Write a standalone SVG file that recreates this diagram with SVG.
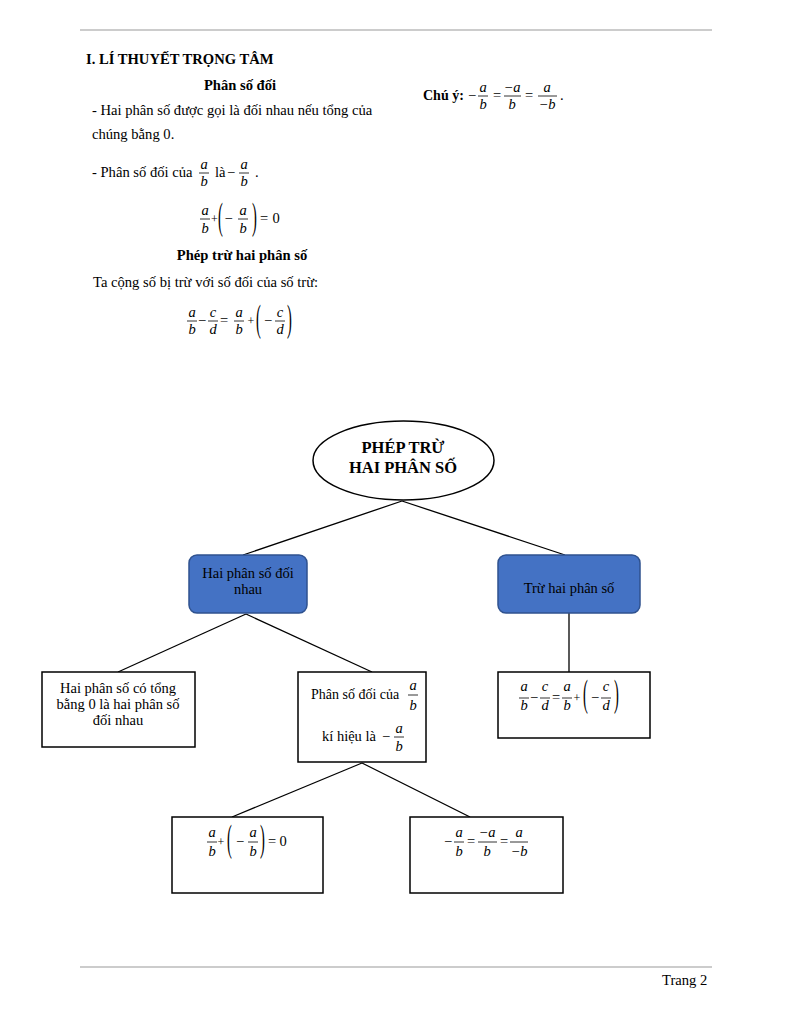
<svg xmlns="http://www.w3.org/2000/svg" width="792" height="1024" viewBox="0 0 792 1024">
<style>
.t{font-family:"Liberation Serif","Times New Roman",serif;font-size:14.6px;fill:#000}
.f{font-family:"Liberation Serif","Times New Roman",serif;font-size:14.5px;fill:#000}
.b{font-weight:bold}
.i{font-style:italic}
.m{text-anchor:middle}
.fl{stroke:#000;stroke-width:0.8}
.rule{stroke:#999;stroke-width:1}
.box{fill:#fff;stroke:#000;stroke-width:1.5}
.blue{fill:#4472C4;stroke:#2F528F;stroke-width:1.5}
.con{stroke:#000;stroke-width:1.3;fill:none}
.nt{font-family:"Liberation Serif","Times New Roman",serif;font-size:14.5px;fill:#000;text-anchor:middle}
.sp{font-size:12px}
</style>
<rect width="792" height="1024" fill="#fff"/>
<line class="rule" x1="80" y1="30" x2="712" y2="30"/>
<line class="rule" x1="80" y1="967" x2="712" y2="967"/>
<text class="t" x="662" y="985">Trang 2</text>

<g id="theory">
<text class="t b" x="86" y="64">I. LÍ THUYẾT TRỌNG TÂM</text>
<text class="t b m" x="240" y="90">Phân số đối</text>
<text class="t" x="92" y="115">- Hai phân số được gọi là đối nhau nếu tổng của</text>
<text class="t" x="92" y="139">chúng bằng 0.</text>
<text class="t" x="92" y="177">- Phân số đối của</text>
<text class="f i m" x="204" y="169">a</text><line class="fl" x1="199" y1="173" x2="209" y2="173"/><text class="f i m" x="204" y="186">b</text>
<text class="t" x="215" y="177">là</text>
<text class="f m" x="231" y="177">−</text>
<text class="f i m" x="244" y="169">a</text><line class="fl" x1="239" y1="173" x2="249" y2="173"/><text class="f i m" x="244" y="186">b</text>
<text class="t" x="255" y="177">.</text>

<text class="f i m" x="205" y="215">a</text><line class="fl" x1="200" y1="219" x2="210" y2="219"/><text class="f i m" x="205" y="233">b</text>
<text class="f m sp" x="214.5" y="223">+</text>
<text class="f" transform="translate(218,221) scale(1,2.6)" y="3">(</text>
<text class="f m" x="228.5" y="223">−</text>
<text class="f i m" x="243" y="215">a</text><line class="fl" x1="238" y1="219" x2="248" y2="219"/><text class="f i m" x="243" y="233">b</text>
<text class="f" transform="translate(252,221) scale(1,2.6)" y="3">)</text>
<text class="f m" x="264" y="223">=</text>
<text class="f m" x="276" y="223">0</text>

<text class="t b m" x="242" y="260">Phép trừ hai phân số</text>
<text class="t" x="93" y="287">Ta cộng số bị trừ với số đối của số trừ:</text>
<text class="f i m" x="192" y="317">a</text><line class="fl" x1="187" y1="321" x2="197" y2="321"/><text class="f i m" x="192" y="334">b</text>
<text class="f m" x="202" y="325">−</text>
<text class="f i m" x="213" y="317">c</text><line class="fl" x1="208" y1="321" x2="218" y2="321"/><text class="f i m" x="213" y="334">d</text>
<text class="f m" x="224" y="325">=</text>
<text class="f i m" x="239" y="317">a</text><line class="fl" x1="234" y1="321" x2="244" y2="321"/><text class="f i m" x="239" y="334">b</text>
<text class="f m sp" x="251" y="325">+</text>
<text class="f" transform="translate(256,323) scale(1,2.6)" y="3">(</text>
<text class="f m" x="268" y="325">−</text>
<text class="f i m" x="280" y="317">c</text><line class="fl" x1="275" y1="321" x2="285" y2="321"/><text class="f i m" x="280" y="334">d</text>
<text class="f" transform="translate(287,323) scale(1,2.6)" y="3">)</text>

<text class="t b" x="423" y="100" style="font-size:14px">Chú ý:</text>
<text class="f m" x="472" y="100">−</text>
<text class="f i m" x="483" y="92">a</text><line class="fl" x1="478" y1="96" x2="488" y2="96"/><text class="f i m" x="483" y="109">b</text>
<text class="f m" x="497" y="100">=</text>
<text class="f i m" x="512" y="92">−a</text><line class="fl" x1="504" y1="96" x2="521" y2="96"/><text class="f i m" x="512" y="109">b</text>
<text class="f m" x="529" y="100">=</text>
<text class="f i m" x="547" y="92">a</text><line class="fl" x1="538" y1="96" x2="557" y2="96"/><text class="f i m" x="547" y="109">−b</text>
<text class="t" x="560" y="100">.</text>
</g>

<g id="connectors">
<line class="con" x1="402" y1="501" x2="243" y2="555"/>
<line class="con" x1="402" y1="501" x2="565" y2="555"/>
<line class="con" x1="246" y1="614" x2="118" y2="672"/>
<line class="con" x1="246" y1="614" x2="372" y2="672"/>
<line class="con" x1="569" y1="613" x2="569" y2="672"/>
<line class="con" x1="362" y1="763" x2="232" y2="817"/>
<line class="con" x1="362" y1="763" x2="470" y2="817"/>
</g>

<g id="root">
<ellipse cx="403.5" cy="460.5" rx="90.5" ry="39.5" fill="#fff" stroke="#000" stroke-width="1.5"/>
<text class="nt" x="403" y="453" style="font-size:16.5px;font-weight:bold">PHÉP TRỪ</text>
<text class="nt" x="403" y="473" style="font-size:16.5px;font-weight:bold">HAI PHÂN SỐ</text>
</g>

<g id="n-doinhau">
<rect class="blue" x="189" y="555" width="118" height="58" rx="8"/>
<text class="nt" x="248" y="578" fill="#111">Hai phân số đối</text>
<text class="nt" x="248" y="594" fill="#111">nhau</text>
</g>

<g id="n-tru">
<rect class="blue" x="498" y="555" width="142" height="58" rx="8"/>
<text class="nt" x="569" y="593">Trừ hai phân số</text>
</g>

<g id="n-tong0">
<rect class="box" x="42" y="672" width="153" height="75"/>
<text class="nt" x="118" y="693">Hai phân số có tổng</text>
<text class="nt" x="118" y="709">bằng 0 là hai phân số</text>
<text class="nt" x="118" y="725">đối nhau</text>
</g>

<g id="n-kihieu">
<rect class="box" x="298" y="672" width="128" height="90"/>
<text class="f" x="311" y="699" style="font-size:14px">Phân số đối của</text>
<text class="f i m" x="413" y="690">a</text><line class="fl" x1="408" y1="695" x2="418" y2="695"/><text class="f i m" x="413" y="710">b</text>
<text class="f" x="322" y="741">kí hiệu là</text>
<text class="f m" x="386" y="741">−</text>
<text class="f i m" x="399" y="733">a</text><line class="fl" x1="394" y1="737" x2="404" y2="737"/><text class="f i m" x="399" y="751">b</text>
</g>

<g id="n-congthuc">
<rect class="box" x="498" y="672" width="152" height="66"/>
<text class="f i m" x="524" y="691">a</text><line class="fl" x1="519" y1="698" x2="529" y2="698"/><text class="f i m" x="524" y="710">b</text>
<text class="f m" x="534" y="702">−</text>
<text class="f i m" x="545" y="691">c</text><line class="fl" x1="540" y1="698" x2="550" y2="698"/><text class="f i m" x="545" y="710">d</text>
<text class="f m" x="556" y="702">=</text>
<text class="f i m" x="567" y="691">a</text><line class="fl" x1="562" y1="698" x2="572" y2="698"/><text class="f i m" x="567" y="710">b</text>
<text class="f m sp" x="577" y="702">+</text>
<text class="f" transform="translate(583,698) scale(1,2.6)" y="3">(</text>
<text class="f m" x="595" y="702">−</text>
<text class="f i m" x="606" y="691">c</text><line class="fl" x1="601" y1="698" x2="611" y2="698"/><text class="f i m" x="606" y="710">d</text>
<text class="f" transform="translate(614,698) scale(1,2.6)" y="3">)</text>
</g>

<g id="n-tong">
<rect class="box" x="172" y="817" width="151" height="76"/>
<text class="f i m" x="212" y="837">a</text><line class="fl" x1="207" y1="842" x2="217" y2="842"/><text class="f i m" x="212" y="856">b</text>
<text class="f m sp" x="221" y="846">+</text>
<text class="f" transform="translate(227,843) scale(1,2.6)" y="3">(</text>
<text class="f m" x="240" y="846">−</text>
<text class="f i m" x="253" y="837">a</text><line class="fl" x1="248" y1="842" x2="258" y2="842"/><text class="f i m" x="253" y="856">b</text>
<text class="f" transform="translate(260,843) scale(1,2.6)" y="3">)</text>
<text class="f m" x="272" y="846">=</text>
<text class="f m" x="283" y="846">0</text>
</g>

<g id="n-dau">
<rect class="box" x="410" y="817" width="153" height="76"/>
<text class="f m" x="448" y="846">−</text>
<text class="f i m" x="459" y="837">a</text><line class="fl" x1="454" y1="842" x2="464" y2="842"/><text class="f i m" x="459" y="856">b</text>
<text class="f m" x="471" y="846">=</text>
<text class="f i m" x="487" y="837">−a</text><line class="fl" x1="478" y1="842" x2="497" y2="842"/><text class="f i m" x="487" y="856">b</text>
<text class="f m" x="504" y="846">=</text>
<text class="f i m" x="519" y="837">a</text><line class="fl" x1="510" y1="842" x2="528" y2="842"/><text class="f i m" x="519" y="856">−b</text>
</g>
</svg>
